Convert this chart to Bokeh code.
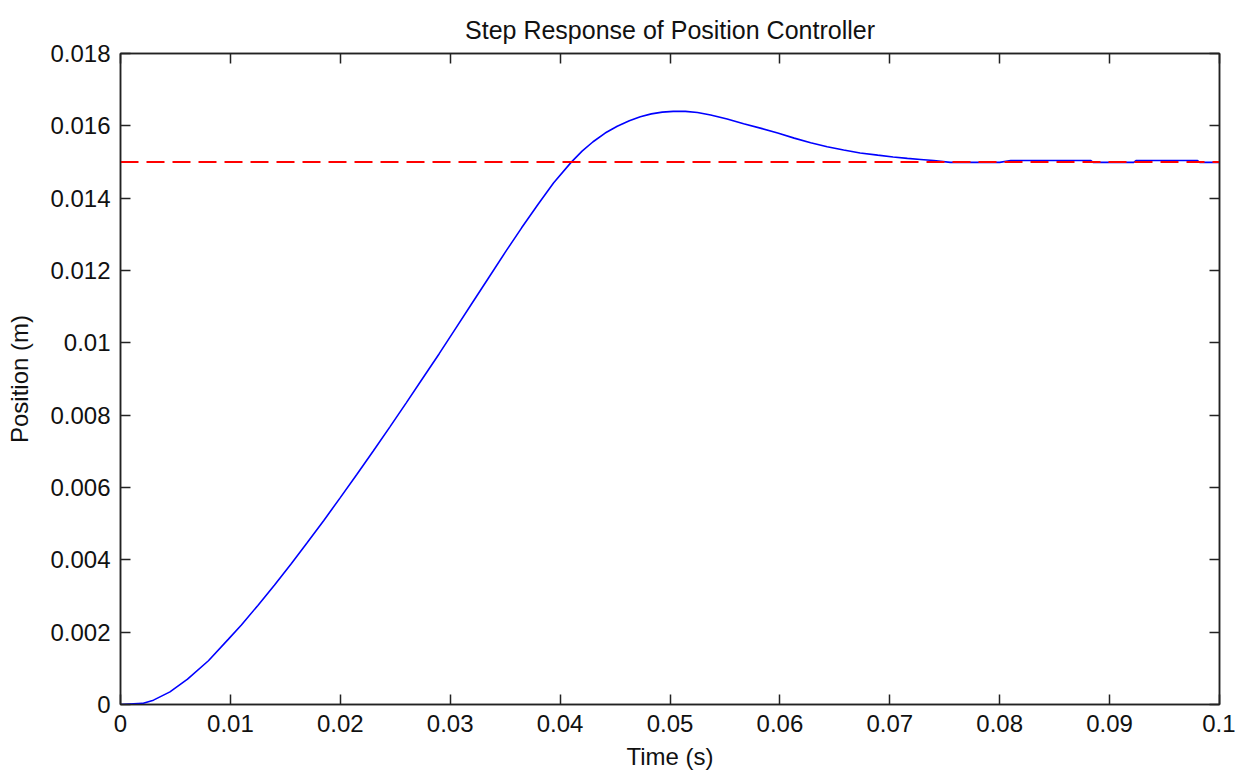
from bokeh.plotting import figure
from bokeh.models import Range1d, FixedTicker, LinearAxis, ColumnDataSource
from bokeh.embed import file_html
from bokeh.resources import INLINE

# Step response samples: time (s) and position (m)
time_s = [0, 0.0020, 0.0030, 0.0045, 0.0061, 0.0080, 0.0098, 0.0110, 0.0125,
          0.0140, 0.0155, 0.0170, 0.0185, 0.0200, 0.0215, 0.0230, 0.0245,
          0.0260, 0.0275, 0.0290, 0.0305, 0.0320, 0.0335, 0.0350, 0.0365,
          0.0380, 0.0394, 0.0410, 0.0420, 0.0430, 0.0441, 0.0452, 0.0463,
          0.0473, 0.0483, 0.0493, 0.0503, 0.0514, 0.0525, 0.0537, 0.0552,
          0.0567, 0.0583, 0.0598, 0.0613, 0.0628, 0.0643, 0.0658, 0.0673,
          0.0689, 0.0703, 0.0716, 0.0728, 0.0740, 0.0755, 0.0800, 0.0810,
          0.0883, 0.0885, 0.0922, 0.0924, 0.0980, 0.0982, 0.1]
position_m = [0, 0.00003, 0.00012, 0.00035, 0.00070, 0.00121, 0.00180,
              0.00220, 0.00274, 0.00330, 0.00388, 0.00448, 0.00509, 0.00572,
              0.00636, 0.00701, 0.00767, 0.00834, 0.00902, 0.00970, 0.01040,
              0.01110, 0.01180, 0.01250, 0.01318, 0.01383, 0.01442, 0.01499,
              0.01530, 0.01556, 0.01580, 0.01599, 0.01614, 0.01625, 0.01633,
              0.01638, 0.01640, 0.01640, 0.01637, 0.01630, 0.01619, 0.01606,
              0.01593, 0.01580, 0.01566, 0.01553, 0.01542, 0.01533, 0.01525,
              0.01519, 0.01514, 0.01510, 0.01507, 0.01504, 0.01499, 0.01499,
              0.01504, 0.01504, 0.01499, 0.01499, 0.01504, 0.01504, 0.01499,
              0.01499]

# Desired set-point
setpoint_time = [0, 0.1]
setpoint_value = [0.015, 0.015]

x_ticks = [0, 0.01, 0.02, 0.03, 0.04, 0.05, 0.06, 0.07, 0.08, 0.09, 0.1]
x_tick_labels = ["0", "0.01", "0.02", "0.03", "0.04", "0.05", "0.06", "0.07",
                 "0.08", "0.09", "0.1"]
y_ticks = [0, 0.002, 0.004, 0.006, 0.008, 0.01, 0.012, 0.014, 0.016, 0.018]
y_tick_labels = ["0", "0.002", "0.004", "0.006", "0.008", "0.01", "0.012",
                 "0.014", "0.016", "0.018"]

FONT = "Liberation Sans"
FS = "24px"
AX_COLOR = "#222222"

p = figure(width=1235, height=772, output_backend="svg", toolbar_location=None,
           x_range=Range1d(0, 0.1), y_range=Range1d(0, 0.018),
           x_axis_location=None, y_axis_location=None,
           min_border_left=120, min_border_right=16,
           min_border_top=53, min_border_bottom=68)
p.background_fill_color = "white"
p.border_fill_color = "white"
p.outline_line_color = AX_COLOR
p.outline_line_width = 1.5
p.grid.visible = False

p.title.text = "Step Response of Position Controller"
p.title.text_font = FONT
p.title.text_font_size = "25px"
p.title.text_font_style = "normal"
p.title.align = "center"
p.title.text_color = "#111111"
p.title.standoff = 20


def make_axis(ticks, labels, with_labels):
    ax = LinearAxis(ticker=FixedTicker(ticks=ticks))
    ax.major_label_overrides = {t: (l if with_labels else "") for t, l in zip(ticks, labels)}
    ax.major_tick_in = 10
    ax.major_tick_out = 0
    ax.minor_tick_in = 0
    ax.minor_tick_out = 0
    ax.major_tick_line_color = AX_COLOR
    ax.major_tick_line_width = 1.5
    ax.axis_line_color = AX_COLOR
    ax.axis_line_width = 1.5
    ax.major_label_text_font = FONT
    ax.major_label_text_font_size = FS if with_labels else "0px"
    ax.major_label_text_color = "#111111"
    ax.axis_label_text_font = FONT
    ax.axis_label_text_font_size = FS
    ax.axis_label_text_font_style = "normal"
    ax.axis_label_text_color = "#111111"
    return ax


xb = make_axis(x_ticks, x_tick_labels, True)
xb.axis_label = "Time (s)"
xb.major_label_standoff = 10
xb.axis_label_standoff = 8
p.add_layout(xb, "below")

yl = make_axis(y_ticks, y_tick_labels, True)
yl.axis_label = "Position (m)"
yl.major_label_standoff = 10
yl.axis_label_standoff = 14
p.add_layout(yl, "left")

xt = make_axis(x_ticks, x_tick_labels, False)
xt.major_label_standoff = 0
p.add_layout(xt, "above")

yr = make_axis(y_ticks, y_tick_labels, False)
yr.major_label_standoff = 0
p.add_layout(yr, "right")

src = ColumnDataSource(data=dict(t=time_s, y=position_m))
p.line("t", "y", source=src, line_color="#0000ff", line_width=1.6)

ref = ColumnDataSource(data=dict(t=setpoint_time, y=setpoint_value))
p.line("t", "y", source=ref, line_color="#ff0000", line_width=2,
       line_dash="18 8")

open("out.html", "w").write(file_html(p, INLINE))
